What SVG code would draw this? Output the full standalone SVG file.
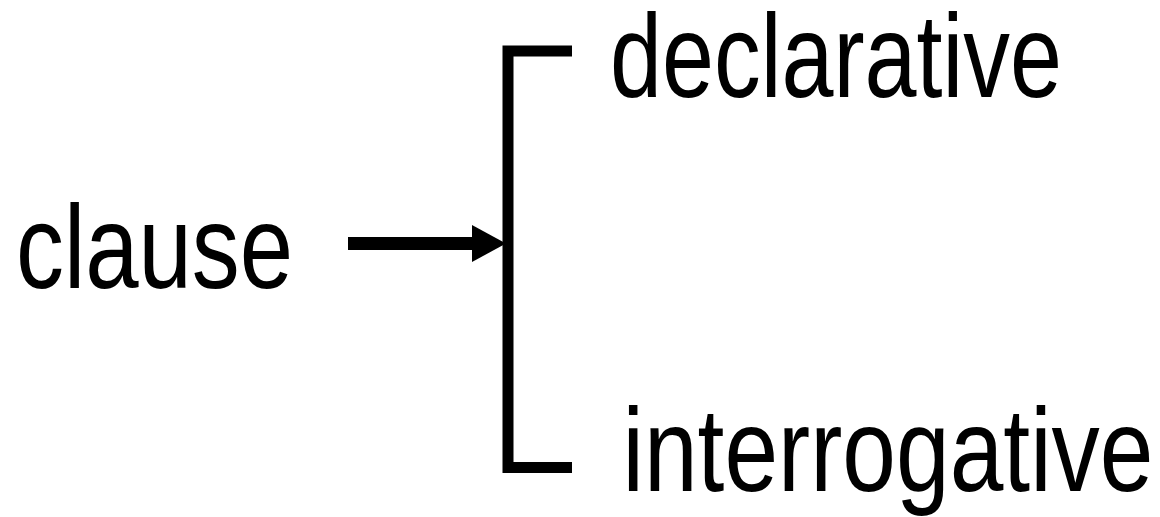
<svg xmlns="http://www.w3.org/2000/svg" width="1160" height="517" viewBox="0 0 1160 517">
<style>
.t{font-family:"Liberation Sans",Arial,sans-serif;font-size:119px;fill:#000}
.c{fill:none;stroke:#000;stroke-linecap:butt;stroke-linejoin:miter}
</style>
<rect width="1160" height="517" fill="#fff"/>
<g id="node-clause"><text class="t" x="16" y="288" textLength="277" lengthAdjust="spacingAndGlyphs">clause</text></g>
<g id="node-declarative"><text class="t" x="610" y="97" textLength="452" lengthAdjust="spacingAndGlyphs">declarative</text></g>
<g id="node-interrogative"><text class="t" x="622.5" y="491" textLength="531" lengthAdjust="spacingAndGlyphs">interrogative</text></g>
<g id="connectors">
<line class="c" x1="348" y1="243.5" x2="474" y2="243.5" stroke-width="13"/>
<polygon points="472,225 506,243.5 472,262" fill="#000"/>
<polyline class="c" points="572,51 508,51 508,467.5 572,467.5" stroke-width="11"/>
</g>
</svg>
